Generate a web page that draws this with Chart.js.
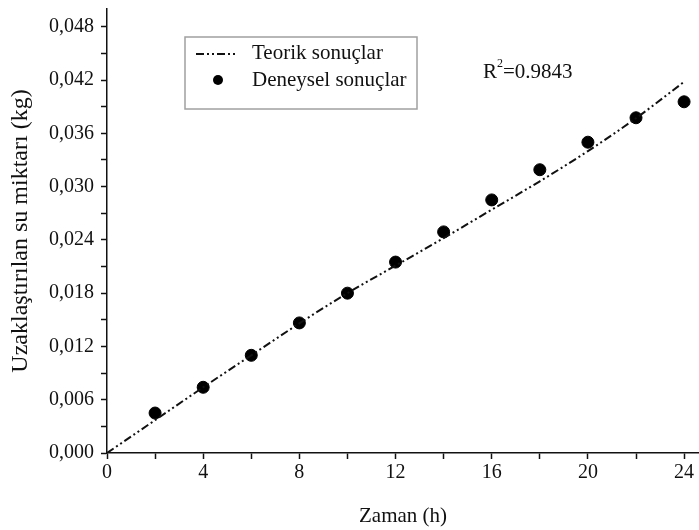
<!DOCTYPE html>
<html>
<head>
<meta charset="utf-8">
<script src="https://cdn.jsdelivr.net/npm/chart.js@4"></script>
<style>
  html,body{margin:0;padding:0;background:#fff;}
  #wrap{width:699px;height:530px;}
</style>
</head>
<body>
<div id="wrap"><canvas id="grafico" width="699" height="530"></canvas></div>
<script>
// zaman (h)
const zamanTeorik = [0, 2, 4, 6, 8, 10, 12, 14, 16, 18, 20, 22, 24];
const teorik = [0, 0.0037, 0.0074, 0.0110, 0.0146, 0.0180, 0.0211, 0.0242, 0.0274, 0.0306, 0.0340, 0.0377, 0.0418];

const zamanDeney = [2, 4, 6, 8, 10, 12, 14, 16, 18, 20, 22, 24];
const deneysel = [0.0045, 0.0074, 0.0110, 0.01465, 0.0180, 0.0215, 0.0249, 0.0285, 0.0319, 0.0350, 0.03775, 0.03955];

const etiketler = ["Teorik sonuçlar", "Deneysel sonuçlar"];
const r2Yazi = "0.9843";

const yaziTipi = "'Liberation Serif', 'DejaVu Serif', serif";

const lejant = {
  id: "lejant",
  afterDraw(c){
    const ctx = c.ctx;
    ctx.save();
    // kutu
    ctx.strokeStyle = "#a0a0a0";
    ctx.lineWidth = 1.5;
    ctx.strokeRect(185, 37, 232, 72);
    // teorik çizgi
    ctx.strokeStyle = "#111";
    ctx.lineWidth = 2;
    ctx.setLineDash([8,3,2,3,2,3]);
    ctx.beginPath();
    ctx.moveTo(196, 54);
    ctx.lineTo(238, 54);
    ctx.stroke();
    ctx.setLineDash([]);
    // nokta
    ctx.fillStyle = "#000";
    ctx.beginPath();
    ctx.arc(218, 80, 5, 0, Math.PI*2);
    ctx.fill();
    ctx.fillStyle = "#111";
    ctx.font = "21px " + yaziTipi;
    ctx.textBaseline = "middle";
    ctx.fillText(etiketler[0], 252, 53);
    ctx.fillText(etiketler[1], 252, 80);
    // R2
    let x = 483;
    ctx.fillText("R", x, 72);
    x += ctx.measureText("R").width;
    ctx.font = "12px " + yaziTipi;
    ctx.fillText("2", x, 64);
    x += ctx.measureText("2").width;
    ctx.font = "21px " + yaziTipi;
    ctx.fillText("=" + r2Yazi, x, 72);
    ctx.restore();
  }
};

const chart = new Chart(document.getElementById("grafico"), {
  type: "scatter",
  data: {
    datasets: [
      {
        label: etiketler[0],
        data: zamanTeorik.map((t,i)=>({x:t, y:teorik[i]})),
        showLine: true,
        borderColor: "#111",
        borderWidth: 2,
        borderDash: [8,3,2,3,2,3],
        pointRadius: 0,
        cubicInterpolationMode: "monotone",
        fill: false
      },
      {
        label: etiketler[1],
        data: zamanDeney.map((t,i)=>({x:t, y:deneysel[i]})),
        showLine: false,
        backgroundColor: "#000",
        borderColor: "#000",
        pointRadius: 6,
        pointHoverRadius: 6
      }
    ]
  },
  options: {
    responsive: false,
    animation: false,
    layout: {autoPadding: false, padding: {top: 9, right: 0, left: 0, bottom: 0}},
    plugins: {
      legend: {display: false},
      tooltip: {enabled: false}
    },
    scales: {
      x: {
        type: "linear",
        min: 0,
        max: 24.62,
        afterFit(s){ s.height = 77; s.paddingLeft = 0; s.paddingRight = 0; },
        grid: {drawOnChartArea: false, drawTicks: true, tickLength: 6, tickColor: "#111", tickWidth: 1.5},
        border: {color: "#111", width: 1.5},
        ticks: {
          stepSize: 2,
          includeBounds: false,
          maxRotation: 0,
          autoSkip: false,
          padding: 2,
          color: "#111",
          font: {family: yaziTipi, size: 20},
          callback: v => (Math.round(v) % 4 === 0 ? String(Math.round(v)) : "")
        },
        title: {
          display: true,
          text: "Zaman (h)",
          color: "#111",
          font: {family: yaziTipi, size: 21},
          padding: {top: 6, bottom: 1}
        }
      },
      y: {
        type: "linear",
        min: 0,
        max: 0.05,
        afterFit(s){ s.width = 107; s.paddingTop = 0; s.paddingBottom = 0; },
        grid: {drawOnChartArea: false, drawTicks: true, tickLength: 6, tickColor: "#111", tickWidth: 1.5},
        border: {color: "#111", width: 1.5},
        ticks: {
          stepSize: 0.003,
          includeBounds: false,
          autoSkip: false,
          padding: 7,
          color: "#111",
          font: {family: yaziTipi, size: 20},
          callback: v => (Math.round(v/0.003) % 2 === 0 ? v.toFixed(3).replace(".", ",") : "")
        },
        title: {
          display: true,
          text: "Uzaklaştırılan su miktarı (kg)",
          color: "#111",
          font: {family: yaziTipi, size: 24},
          padding: {top: 6, bottom: 0}
        }
      }
    }
  },
  plugins: [lejant]
});
</script>
</body>
</html>
